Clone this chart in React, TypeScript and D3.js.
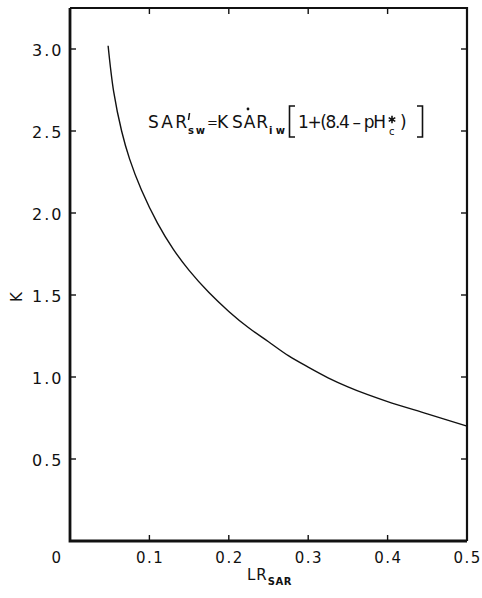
import React, { useEffect, useRef } from "react";
import * as d3 from "d3";

// LR_SAR vs K
const lrSar = [0.048, 0.055, 0.065, 0.075, 0.09, 0.11, 0.13, 0.15, 0.175, 0.2, 0.225, 0.25, 0.275, 0.3, 0.325, 0.35, 0.375, 0.4, 0.45, 0.5];
const kVals = [3.02, 2.74, 2.5, 2.33, 2.14, 1.94, 1.78, 1.65, 1.515, 1.4, 1.3, 1.215, 1.13, 1.06, 0.995, 0.94, 0.892, 0.85, 0.775, 0.7];

const xTicks = [0.1, 0.2, 0.3, 0.4, 0.5];
const xTickLabels = ["0.1", "0.2", "0.3", "0.4", "0.5"];
const yTicks = [0.5, 1.0, 1.5, 2.0, 2.5, 3.0];
const yTickLabels = ["0.5", "1.0", "1.5", "2.0", "2.5", "3.0"];

const width = 482;
const height = 598;
const margin = { top: 8, right: 15, bottom: 57, left: 70 };
const font = "'DejaVu Sans', sans-serif";

export default function App() {
  const svgRef = useRef<SVGSVGElement>(null);

  useEffect(() => {
    const svg = d3.select(svgRef.current);
    svg.selectAll("*").remove();

    const x = d3
      .scaleLinear()
      .domain([0, 0.5])
      .range([margin.left, width - margin.right]);
    const y = d3
      .scaleLinear()
      .domain([0, 3.25])
      .range([height - margin.bottom, margin.top]);

    const x0 = x(0);
    const x1 = x(0.5);
    const yb = y(0);
    const yt = margin.top;

    // ticks pointing inward on all four sides
    const tk = 6;
    const ticks = svg.append("g").attr("stroke", "#111").attr("stroke-width", 1.4);
    xTicks.slice(0, -1).forEach((t) => {
      ticks.append("line").attr("x1", x(t)).attr("x2", x(t)).attr("y1", yb).attr("y2", yb - tk);
      ticks.append("line").attr("x1", x(t)).attr("x2", x(t)).attr("y1", yt).attr("y2", yt + tk);
    });
    yTicks.forEach((t) => {
      ticks.append("line").attr("x1", x0).attr("x2", x0 + tk).attr("y1", y(t)).attr("y2", y(t));
      ticks.append("line").attr("x1", x1).attr("x2", x1 - tk).attr("y1", y(t)).attr("y2", y(t));
    });

    // frame
    svg
      .append("path")
      .attr("fill", "none")
      .attr("stroke", "#111")
      .attr("stroke-width", 2.2)
      .attr("d", `M${x0},${yt}H${x1}V${yb}`);
    svg
      .append("path")
      .attr("fill", "none")
      .attr("stroke", "#111")
      .attr("stroke-width", 2.8)
      .attr("d", `M${x0},${yt}V${yb}H${x1}`);

    // tick labels
    const lab = svg
      .append("g")
      .attr("font-family", font)
      .attr("font-size", 15)
      .attr("fill", "#111")
      .attr("letter-spacing", 1.5);
    lab.append("text").attr("x", x0 - 13).attr("y", yb + 22).attr("text-anchor", "middle").text("0");
    xTicks.forEach((t, i) => {
      lab
        .append("text")
        .attr("x", x(t) + 0.75)
        .attr("y", yb + 22)
        .attr("text-anchor", "middle")
        .text(xTickLabels[i]);
    });
    yTicks.forEach((t, i) => {
      lab
        .append("text")
        .attr("x", x0 - 6.5)
        .attr("y", y(t) + 7)
        .attr("text-anchor", "end")
        .attr("font-size", 16)
        .attr("letter-spacing", 2)
        .text(yTickLabels[i]);
    });

    // axis titles
    const xt = svg.append("text").attr("font-family", font).attr("fill", "#111").attr("x", 247).attr("y", 580);
    xt.append("tspan").attr("font-size", 15).attr("letter-spacing", 1).text("LR");
    xt.append("tspan").attr("font-size", 10).attr("font-weight", "bold").attr("dy", 5).attr("letter-spacing", 0.5).text("SAR");

    svg
      .append("text")
      .attr("font-family", font)
      .attr("font-size", 15)
      .attr("fill", "#111")
      .attr("text-anchor", "middle")
      .attr("transform", `translate(22,${y(1.5) + 2}) rotate(-90)`)
      .text("K");

    // curve
    const line = d3
      .line<number>()
      .x((_, i) => x(lrSar[i]))
      .y((d) => y(d))
      .curve(d3.curveCatmullRom.alpha(0.5));
    svg
      .append("path")
      .attr("fill", "none")
      .attr("stroke", "#111")
      .attr("stroke-width", 1.4)
      .attr("d", line(kVals));

    // equation
    const eq = svg.append("g").attr("font-family", font).attr("fill", "#111");
    const big = 17;
    eq.append("text").attr("x", 148).attr("y", 128).attr("font-size", big).attr("textLength", 39).text("SAR");
    eq.append("text").attr("x", 188).attr("y", 134).attr("font-size", 10).attr("font-weight", "bold").attr("textLength", 17).text("sw");
    eq.append("text").attr("x", 207).attr("y", 127).attr("font-size", 13).text("=");
    eq.append("text").attr("x", 217).attr("y", 128).attr("font-size", big).text("K");
    eq.append("text").attr("x", 232).attr("y", 128).attr("font-size", big).attr("textLength", 36).text("SAR");
    eq.append("circle").attr("cx", 248).attr("cy", 109).attr("r", 1.4);
    eq.append("text").attr("x", 269).attr("y", 134).attr("font-size", 10).attr("font-weight", "bold").attr("textLength", 16).text("iw");
    eq.append("text").attr("x", 298).attr("y", 128).attr("font-size", big).attr("textLength", 88).attr("lengthAdjust", "spacing").text("1+(8.4 – pH");
    eq.append("text").attr("x", 389).attr("y", 135).attr("font-size", 10).text("c");
    eq.append("text").attr("x", 400).attr("y", 128).attr("font-size", big).text(")");

    const marks = eq.append("g").attr("fill", "none").attr("stroke", "#111");
    // prime on SAR'
    marks.append("path").attr("stroke-width", 1.5).attr("d", "M189.5,113L188.5,120");
    // asterisk on pH*
    const ax = 392;
    const ay = 119.5;
    const r = 3.8;
    marks
      .append("path")
      .attr("stroke-width", 1.6)
      .attr(
        "d",
        [90, 30, 150]
          .map((a) => {
            const rad = (a * Math.PI) / 180;
            const dx = r * Math.cos(rad);
            const dy = r * Math.sin(rad);
            return `M${ax - dx},${ay - dy}L${ax + dx},${ay + dy}`;
          })
          .join("")
      );
    // brackets
    marks.append("path").attr("stroke-width", 1.6).attr("d", "M295,106H289.5V137H295M417,106H422.5V137H417");
  }, []);

  return (
    <svg
      ref={svgRef}
      width={width}
      height={height}
      style={{ position: "absolute", left: 0, top: 0, background: "#fff" }}
    ></svg>
  );
}
